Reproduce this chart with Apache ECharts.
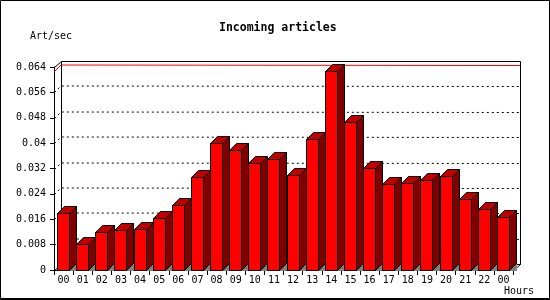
<!DOCTYPE html>
<html><head><meta charset="utf-8">
<script src="https://cdn.jsdelivr.net/npm/echarts@6/dist/echarts.min.js"></script>
<style>html,body{margin:0;padding:0;background:#fff}#c{width:550px;height:300px}</style>
</head><body><div id="c"></div>
<script>
const hours = ['00','01','02','03','04','05','06','07','08','09','10','11','12','13','14','15','16','17','18','19','20','21','22','00'];
const artPerSec = [0.0179,0.0081,0.0119,0.0125,0.0129,0.0163,0.0204,0.0293,0.0400,0.0378,0.0337,0.0350,0.0300,0.0413,0.0626,0.0467,0.0322,0.0272,0.0274,0.0284,0.0296,0.0224,0.0192,0.0167];
const gridLevels = [0.008,0.016,0.024,0.032,0.040,0.048,0.056];
const yMax = 0.064, yStep = 0.008;

const FONT = 'DejaVu Sans Mono';
const DX = 7, DY = 7;      // bar depth
const WX = 6.5, WY = 6.5;  // wall depth
const px = v => Math.round(v) + 0.5;

function renderFrame(params, api) {
  const cs = params.coordSys;
  const x0 = px(cs.x), x1 = px(cs.x + cs.width), y0 = px(cs.y), y1 = px(cs.y + cs.height);
  const bx0 = px(x0 + WX), bx1 = px(x1 + WX), by0 = px(y0 - WY), by1 = px(y1 - WY);
  const solid = {stroke: '#000', lineWidth: 1, fill: null};
  const children = [];
  const line = (a, b, c, d, st) => children.push({type: 'line', shape: {x1: a, y1: b, x2: c, y2: d}, style: st || solid, silent: true});
  gridLevels.forEach(v => {
    const y = px(api.coord([0, v])[1]);
    children.push({type: 'polyline', shape: {points: [[x0, y], [x0 + WX, y - WY], [bx1, px(y - WY)]]},
      style: {stroke: '#000', lineWidth: 1, lineDash: [2, 3], fill: null}, silent: true});
  });
  const ym = px(api.coord([0, Math.max.apply(null, artPerSec)])[1]);
  children.push({type: 'polyline', shape: {points: [[x0, ym], [x0 + WX, ym - WY], [bx1, px(ym - WY)]]},
    style: {stroke: '#ff0000', lineWidth: 1, fill: null}, silent: true});
  line(bx0, by0, bx0, by1);
  line(bx0, by0, bx1, by0);
  line(bx1, by0, bx1, by1);
  line(x0, y0, bx0, by0);
  line(x0, y1, bx0, by1);
  line(x1, y1, bx1, by1);
  line(bx0, by1, bx1, by1);
  return {type: 'group', children};
}

function renderBar(params, api) {
  const i = api.value(0), v = api.value(1);
  const top = api.coord([i, v]);
  const bot = api.coord([i, 0]);
  const bw = api.size([1, 0])[0];
  const xl = Math.floor(top[0] - bw / 2 + 3.6) + 0.5;
  const xr = xl + 12;
  const yt = px(top[1]);
  const yb = px(bot[1]);
  const st = (fill) => ({fill, stroke: '#000', lineWidth: 1});
  return {type: 'group', children: [
    {type: 'polygon', shape: {points: [[xr, yb], [xr + DX, yb - DY], [xr + DX, yb]]}, style: {fill: '#808080', stroke: '#808080', lineWidth: 1}},
    {type: 'polygon', shape: {points: [[xr, yt], [xr + DX, yt - DY], [xr + DX, yb - DY], [xr, yb]]}, style: st('#800000')},
    {type: 'polygon', shape: {points: [[xl, yt], [xl + DX, yt - DY], [xr + DX, yt - DY], [xr, yt]]}, style: st('#c00000')},
    {type: 'rect', shape: {x: xl, y: yt, width: xr - xl, height: yb - yt}, style: st('#ff0000')}
  ]};
}

const chart = echarts.init(document.getElementById('c'), null, {renderer: 'canvas'});
chart.setOption({
  animation: false,
  backgroundColor: '#fff',
  title: {text: 'Incoming articles', left: 214, top: 17,
    textStyle: {fontFamily: FONT, fontSize: 11.5, fontWeight: 'bold', color: '#000'}},
  grid: {left: 54, right: 37, top: 67, bottom: 30, containLabel: false},
  xAxis: {type: 'category', data: hours, boundaryGap: true,
    axisLine: {lineStyle: {color: '#000', width: 1}},
    axisTick: {show: true, interval: 0, length: 5, lineStyle: {color: '#000'}},
    axisLabel: {interval: 0, margin: 5, fontFamily: FONT, fontSize: 10, color: '#000'},
    splitLine: {show: false}},
  yAxis: {type: 'value', min: 0, max: yMax, interval: yStep,
    axisLine: {show: true, lineStyle: {color: '#000', width: 1}},
    axisTick: {show: true, length: 4, lineStyle: {color: '#000'}},
    axisLabel: {margin: 8, fontFamily: FONT, fontSize: 10, color: '#000',
      formatter: v => String(parseFloat(v.toFixed(3)))},
    splitLine: {show: false}},
  graphic: [
    {type: 'rect', shape: {x: 0.5, y: 0.5, width: 549, height: 298}, style: {fill: null, stroke: '#000', lineWidth: 1}, z: 100},
    {type: 'line', shape: {x1: 0, y1: 299.5, x2: 550, y2: 299.5}, style: {stroke: '#000', lineWidth: 1}, z: 100},
    {type: 'text', left: 30, top: 31, style: {text: 'Art/sec', font: '10px "DejaVu Sans Mono"', fill: '#000'}},
    {type: 'text', left: 504, top: 286, style: {text: 'Hours', font: '10px "DejaVu Sans Mono"', fill: '#000'}}
  ],
  series: [
    {type: 'custom', name: 'frame', renderItem: renderFrame, data: [[0, 0]], z: 1, silent: true, clip: false},
    {type: 'custom', name: 'Art/sec', renderItem: renderBar, z: 3, clip: false,
      data: artPerSec.map((v, i) => [i, v]), encode: {x: 0, y: 1}}
  ]
});
</script></body></html>
